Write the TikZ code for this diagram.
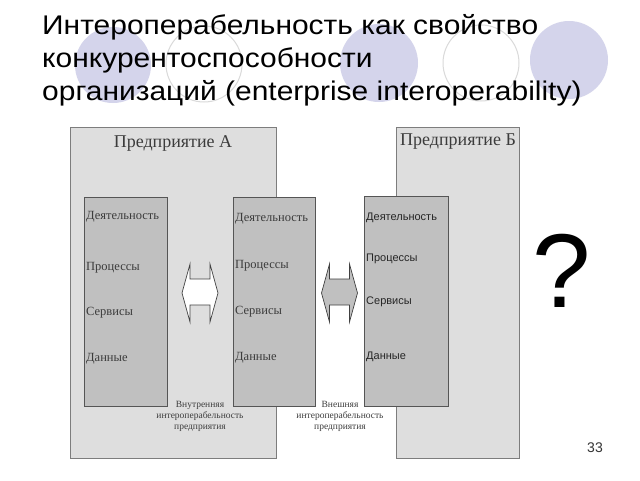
\documentclass[tikz,border=0pt]{standalone}
\usepackage{fontspec}
\setmainfont{Liberation Serif}
\newfontfamily\arial{Liberation Sans}
\newfontfamily\titlefont[FakeStretch=1.11]{Liberation Sans}
\definecolor{lav}{RGB}{212,212,235}
\definecolor{ring}{RGB}{218,218,218}
\definecolor{entfill}{RGB}{222,222,222}
\definecolor{entline}{RGB}{125,125,125}
\definecolor{layfill}{RGB}{192,192,192}
\definecolor{layline}{RGB}{85,85,85}
\definecolor{txtgray}{RGB}{60,60,60}
\tikzset{
  dot/.style={fill=lav,draw=none},
  hollow/.style={draw=ring,line width=1pt,fill=white},
  entbox/.style={fill=entfill,draw=entline,line width=0.8pt},
  laybox/.style={fill=layfill,draw=layline,line width=0.8pt},
  titletext/.style={anchor=base west,inner sep=0pt,font=\titlefont\fontsize{27}{33}\selectfont},
  enttitle/.style={inner sep=0pt,text=txtgray,font=\fontsize{18}{20}\selectfont},
  serifrow/.style={anchor=west,inner sep=0pt,text=txtgray,font=\fontsize{12.5}{14}\selectfont},
  sansrow/.style={anchor=west,inner sep=0pt,text=black!85,font=\arial\fontsize{11}{13}\selectfont},
  caption/.style={inner sep=0pt,align=center,text=txtgray,font=\fontsize{9.5}{11}\selectfont},
  dblarrow/.pic={\draw[draw=black!75,line width=0.7pt,fill=#1,line join=miter]
     (-18,0) -- (-10,-29) -- (-10,-14) -- (10,-14) -- (10,-29) -- (18,0)
     -- (10,29) -- (10,12) -- (-10,12) -- (-10,29) -- cycle;}
}
\begin{document}
\begin{tikzpicture}[x=1pt,y=-1pt]
\useasboundingbox[fill=white] (0,0) rectangle (640,480);
% background circles
\fill[dot] (113,65) circle (38);
\draw[hollow] (204,64) circle (38);
\fill[dot] (379,63) circle (39);
\draw[hollow] (481,63) circle (38);
\fill[dot] (569,60) circle (39);
% title
\node[titletext] (t1) at (42,34) {Интероперабельность как свойство};
\node[titletext] (t2) at (42,67) {конкурентоспособности};
\node[titletext] (t3) at (42,100) {организаций (enterprise interoperability)};
% enterprises
\draw[entbox] (70,127) rectangle (276,458);
\draw[entbox] (396,127) rectangle (519,458);
\node[enttitle] (ea) at (173,143) {Предприятие А};
\node[enttitle] (eb) at (458,142) {Предприятие Б};
% layer stacks
\draw[laybox] (84,197) rectangle (167,406);
\draw[laybox] (233,197) rectangle (315,406);
\draw[laybox] (364,196) rectangle (448,406);
\node[serifrow] (a1) at (86,217) {Деятельность};
\node[serifrow] (a2) at (86,268) {Процессы};
\node[serifrow] (a3) at (86,313) {Сервисы};
\node[serifrow] (a4) at (86,359) {Данные};
\node[serifrow] (m1) at (235,219) {Деятельность};
\node[serifrow] (m2) at (235,266) {Процессы};
\node[serifrow] (m3) at (235,312) {Сервисы};
\node[serifrow] (m4) at (235,358) {Данные};
\node[sansrow] (b1) at (366,218) {Деятельность};
\node[sansrow] (b2) at (366,259) {Процессы};
\node[sansrow] (b3) at (366,302) {Сервисы};
\node[sansrow] (b4) at (366,357) {Данные};
% arrows
\pic at (200,293) {dblarrow=white};
\pic at (339.5,293) {dblarrow=layfill};
% captions
\node[caption] (ci) at (200,416) {Внутренняя\\интероперабельность\\предприятия};
\node[caption] (ce) at (340,416) {Внешняя\\интероперабельность\\предприятия};
% question mark and page number
\node[inner sep=0pt,font=\arial\fontsize{105}{110}\selectfont] (q) at (562,271) {?};
\node[inner sep=0pt,text=black!80,font=\arial\fontsize{14}{16}\selectfont] (pg) at (595,448) {33};
\end{tikzpicture}
\end{document}
